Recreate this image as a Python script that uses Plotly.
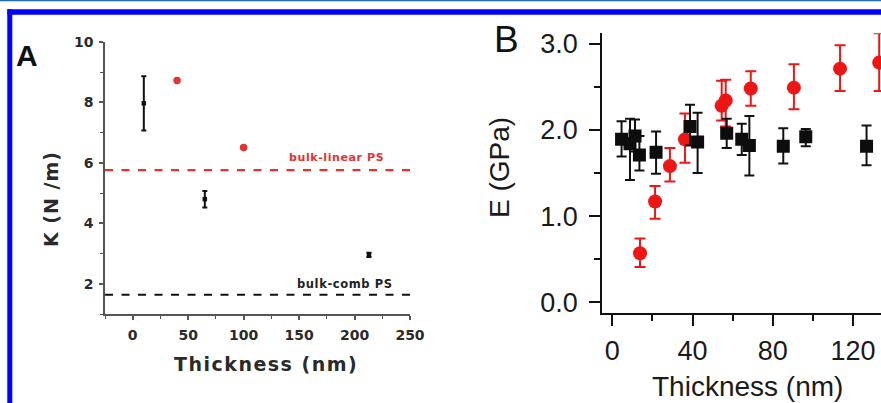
import plotly.graph_objects as go

W, H = 881, 403

# ---------------- Panel A data ----------------
a_black_x = [10, 65, 213]
a_black_y = [7.97, 4.80, 2.96]
a_black_ep = [0.90, 0.27, 0.07]
a_black_em = [0.90, 0.28, 0.07]
a_red_x = [40, 100]
a_red_y = [8.73, 6.51]
bulk_linear = 5.76
bulk_comb = 1.635
a_line_x = [-25, 250]

# ---------------- Panel B data ----------------
b_black_x = [4.6, 8.8, 11.3, 13.5, 21.8, 38.7, 42.5, 57.0, 64.5, 68.3, 85.2, 96.4, 126.7]
b_black_y = [1.89, 1.84, 1.93, 1.71, 1.74, 2.04, 1.86, 1.96, 1.89, 1.82, 1.81, 1.92, 1.81]
b_black_ep = [0.21, 0.29, 0.19, 0.22, 0.24, 0.25, 0.34, 0.17, 0.18, 0.34, 0.21, 0.09, 0.24]
b_black_em = [0.20, 0.42, 0.18, 0.18, 0.25, 0.22, 0.36, 0.17, 0.18, 0.35, 0.20, 0.11, 0.22]

b_red_x = [13.8, 21.3, 28.7, 36.2, 54.5, 56.5, 69.0, 90.5, 113.5, 133.0]
b_red_y = [0.57, 1.17, 1.58, 1.89, 2.28, 2.34, 2.48, 2.49, 2.71, 2.78]
b_red_ep = [0.17, 0.18, 0.21, 0.30, 0.29, 0.24, 0.20, 0.27, 0.27, 0.34]
b_red_em = [0.16, 0.20, 0.18, 0.27, 0.17, 0.30, 0.20, 0.25, 0.26, 0.33]


def px(x):
    return x / W


def py(y):
    return 1 - y / H


def spaced(text, ls):
    return f'<span style="letter-spacing:{ls}px"><b>{text}</b></span>'


A_FONT = "DejaVu Sans"
A_COL = "#2a2a2a"
RED_A = "#e5322f"
RED_B = "#ee1515"
B_FONT = "Liberation Sans"

fig = go.Figure()

# Panel A traces
fig.add_trace(go.Scatter(x=a_line_x, y=[bulk_linear] * 2, mode="lines",
                         line=dict(color=RED_A, width=2.3, dash="8px,8.5px"),
                         xaxis="x", yaxis="y", hoverinfo="skip"))
fig.add_trace(go.Scatter(x=a_line_x, y=[bulk_comb] * 2, mode="lines",
                         line=dict(color="#111111", width=2, dash="8px,8.5px"),
                         xaxis="x", yaxis="y", hoverinfo="skip"))
fig.add_trace(go.Scatter(x=a_black_x, y=a_black_y, mode="markers",
                         marker=dict(symbol="square", size=4.5, color="#111111"),
                         error_y=dict(type="data", array=a_black_ep, arrayminus=a_black_em,
                                      color="#111111", thickness=2, width=2.5),
                         xaxis="x", yaxis="y"))
fig.add_trace(go.Scatter(x=a_red_x, y=a_red_y, mode="markers",
                         marker=dict(symbol="circle", size=7.5, color=RED_A),
                         xaxis="x", yaxis="y"))

# Panel B traces
fig.add_trace(go.Scatter(x=b_red_x, y=b_red_y, mode="markers",
                         marker=dict(symbol="circle", size=14, color=RED_B),
                         error_y=dict(type="data", array=b_red_ep, arrayminus=b_red_em,
                                      color=RED_B, thickness=2, width=5.5),
                         xaxis="x2", yaxis="y2"))
fig.add_trace(go.Scatter(x=b_black_x, y=b_black_y, mode="markers",
                         marker=dict(symbol="square", size=13, color="#0d0d0d"),
                         error_y=dict(type="data", array=b_black_ep, arrayminus=b_black_em,
                                      color="#111111", thickness=2, width=5),
                         xaxis="x2", yaxis="y2"))

a_tick_font = dict(family=A_FONT, size=14, color=A_COL, weight="bold")
b_tick_font = dict(family=B_FONT, size=27, color="#1a1a1a")

fig.update_layout(
    width=W, height=H,
    margin=dict(l=0, r=0, t=0, b=0, autoexpand=False),
    paper_bgcolor="white", plot_bgcolor="white",
    showlegend=False,
    xaxis=dict(domain=[px(105), px(410)], range=[-25, 250], anchor="y", automargin=False,
               tickmode="linear", tick0=0, dtick=50,
               ticks="outside", ticklen=4, tickwidth=1.5, tickcolor="#555555",
               minor=dict(ticks="outside", ticklen=3, tickwidth=1.2, tickcolor="#555555", dtick=25, tick0=0),
               showline=True, linecolor="#555555", linewidth=1.5,
               showgrid=False, zeroline=False, tickfont=a_tick_font, ticklabelstandoff=3),
    yaxis=dict(domain=[py(314), py(42)], range=[1, 10], anchor="x", automargin=False,
               tickmode="linear", tick0=0, dtick=2,
               ticks="outside", ticklen=4, tickwidth=1.5, tickcolor="#555555",
               minor=dict(ticks="outside", ticklen=3, tickwidth=1.2, tickcolor="#555555", dtick=1, tick0=0),
               showline=True, linecolor="#555555", linewidth=1.5,
               showgrid=False, zeroline=False, tickfont=a_tick_font, ticklabelstandoff=3),
    xaxis2=dict(domain=[px(602.3), 1.0], range=[-5, 133.9], anchor="y2", automargin=False,
                tickmode="linear", tick0=0, dtick=40,
                ticks="outside", ticklen=11, tickwidth=2, tickcolor="#111111",
                minor=dict(ticks="outside", ticklen=6, tickwidth=2, tickcolor="#111111", dtick=20, tick0=0),
                showline=True, linecolor="#111111", linewidth=2,
                showgrid=False, zeroline=False, tickfont=b_tick_font, ticklabelstandoff=2),
    yaxis2=dict(domain=[py(312.7), py(33.3)], range=[-0.12, 3.12], anchor="x2", automargin=False,
                tickmode="linear", tick0=0, dtick=1, tickformat=".1f",
                ticks="outside", ticklen=11, tickwidth=2, tickcolor="#111111",
                minor=dict(ticks="outside", ticklen=6, tickwidth=2, tickcolor="#111111", dtick=0.5, tick0=0),
                showline=True, linecolor="#111111", linewidth=2,
                showgrid=False, zeroline=False, tickfont=b_tick_font, ticklabelstandoff=6),
)

ann = []
# Panel letters
ann.append(dict(text="<b>A</b>", x=px(27), y=py(56), xref="paper", yref="paper",
                showarrow=False, font=dict(family="Liberation Sans", size=30, color="#111111"),
                xanchor="center", yanchor="middle"))
ann.append(dict(text="B", x=px(506), y=py(39), xref="paper", yref="paper",
                showarrow=False, font=dict(family=B_FONT, size=37, color="#111111"),
                xanchor="center", yanchor="middle"))
# Panel A titles
ann.append(dict(text=spaced("Thickness (nm)", 1.5), x=px(266), y=py(364), xref="paper", yref="paper",
                showarrow=False, font=dict(family=A_FONT, size=19, color=A_COL),
                xanchor="center", yanchor="middle"))
ann.append(dict(text=spaced("K (N /m)", 1), x=px(51), y=py(199), xref="paper", yref="paper",
                showarrow=False, textangle=-90, font=dict(family=A_FONT, size=19, color=A_COL),
                xanchor="center", yanchor="middle"))
# Reference line labels (anchored to line values)
ann.append(dict(text=spaced("bulk-linear PS", 0.6), x=184, y=bulk_linear + 0.42, xref="x", yref="y",
                showarrow=False, font=dict(family=A_FONT, size=11, color=RED_A),
                xanchor="center", yanchor="middle"))
ann.append(dict(text=spaced("bulk-comb PS", 0.6), x=191, y=bulk_comb + 0.37, xref="x", yref="y",
                showarrow=False, font=dict(family=A_FONT, size=11.5, color="#222222"),
                xanchor="center", yanchor="middle"))
# Panel B titles
ann.append(dict(text="Thickness (nm)", x=px(747), y=py(386), xref="paper", yref="paper",
                showarrow=False, font=dict(family=B_FONT, size=28, color="#1a1a1a"),
                xanchor="center", yanchor="middle"))
ann.append(dict(text="E (GPa)", x=px(500), y=py(168), xref="paper", yref="paper",
                showarrow=False, textangle=-90, font=dict(family=B_FONT, size=28, color="#1a1a1a"),
                xanchor="center", yanchor="middle"))
fig.update_layout(annotations=ann)

# Blue frame
shapes = [
    dict(type="rect", xref="paper", yref="paper", x0=0, x1=1, y0=py(1.3), y1=py(0),
         fillcolor="#1f67b0", line=dict(width=0), layer="above"),
    dict(type="rect", xref="paper", yref="paper", x0=px(7.3), x1=1, y0=py(14.7), y1=py(9.3),
         fillcolor="#0000ff", line=dict(width=0), layer="above"),
    dict(type="rect", xref="paper", yref="paper", x0=px(7.3), x1=px(12.3), y0=0, y1=py(9.3),
         fillcolor="#0000ff", line=dict(width=0), layer="above"),
]
fig.update_layout(shapes=shapes)

# remove the page's default body margin so the 881x403 figure fills the window exactly
fig.write_html(
    "out.html",
    config={"responsive": False, "displayModeBar": False},
    post_script="document.body.style.margin='0';document.body.style.overflow='hidden';",
)
